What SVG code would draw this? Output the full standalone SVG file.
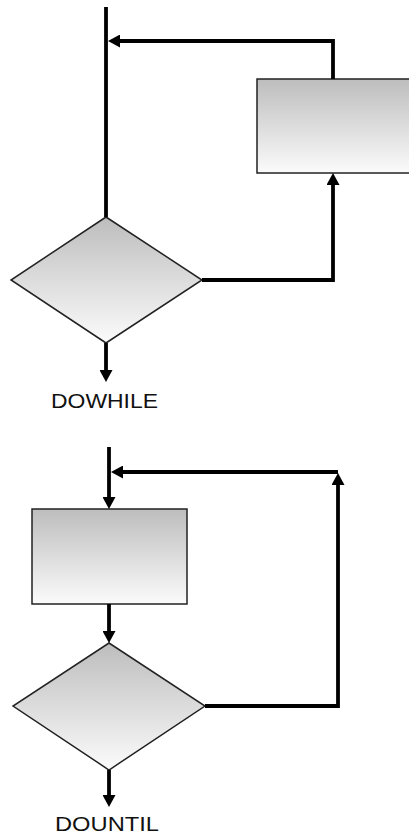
<svg xmlns="http://www.w3.org/2000/svg" width="409" height="837" viewBox="0 0 409 837">
  <style>
    .flow { fill: none; stroke: #000; stroke-width: 3.8; }
    .box { fill: url(#shade); stroke: #222; stroke-width: 1.5; }
    .label { font-family: "Liberation Sans", Arial, sans-serif; font-size: 20px; fill: #111; }
  </style>
  <defs>
    <linearGradient id="shade" x1="0" y1="0" x2="0" y2="1">
      <stop offset="0" stop-color="#bdbdbd"/>
      <stop offset="1" stop-color="#fbfbfb"/>
    </linearGradient>
    <marker id="head" viewBox="0 0 12 13" refX="0" refY="6.5" markerWidth="12" markerHeight="13" markerUnits="userSpaceOnUse" orient="auto">
      <path d="M0,0 L12,6.5 L0,13 Z" fill="#000"/>
    </marker>
  </defs>

  <!-- DOWHILE loop -->
  <g id="dowhile-process">
    <rect class="box" x="257" y="79" width="170" height="94"/>
  </g>
  <g id="dowhile-test">
    <polygon class="box" points="106,217 202,280 106,343 11,280"/>
  </g>
  <g id="dowhile-label">
    <text class="label" x="51" y="408" textLength="107" lengthAdjust="spacingAndGlyphs">DOWHILE</text>
  </g>

  <!-- DOUNTIL loop -->
  <g id="dountil-process">
    <rect class="box" x="32" y="509" width="155" height="95"/>
  </g>
  <g id="dountil-test">
    <polygon class="box" points="109,643 205,706 109,770 13,706"/>
  </g>
  <g id="dountil-label">
    <text class="label" x="55" y="831" textLength="104" lengthAdjust="spacingAndGlyphs">DOUNTIL</text>
  </g>

  <g id="connectors">
    <!-- DOWHILE -->
    <path class="flow" d="M106,7 V217"/>
    <path class="flow" d="M333,79 V41 H120" marker-end="url(#head)"/>
    <path class="flow" d="M202,280 H333 V185" marker-end="url(#head)"/>
    <path class="flow" d="M106,343 V370" marker-end="url(#head)"/>
    <!-- DOUNTIL -->
    <path class="flow" d="M109,447 V497" marker-end="url(#head)"/>
    <path class="flow" d="M338,472 H123" marker-end="url(#head)"/>
    <path class="flow" d="M109,604 V631" marker-end="url(#head)"/>
    <path class="flow" d="M205,706 H338 V485" marker-end="url(#head)"/>
    <path class="flow" d="M109,770 V795" marker-end="url(#head)"/>
  </g>
</svg>
